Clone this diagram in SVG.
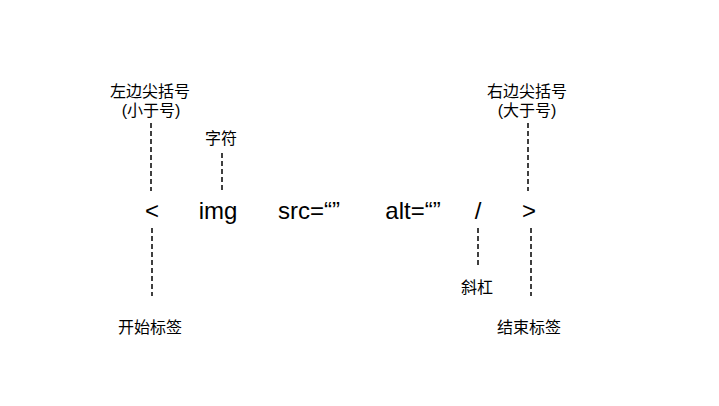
<svg xmlns="http://www.w3.org/2000/svg" width="719" height="406" viewBox="0 0 719 406">
<style>
.lbl{font-family:"Liberation Sans","Noto Sans CJK SC",sans-serif;font-size:16px;fill:#000;text-anchor:middle}
.code{font-family:"Liberation Sans","Noto Sans CJK SC",sans-serif;font-size:24px;fill:#000;text-anchor:middle}
.dash{stroke:#000;stroke-width:1.5;stroke-dasharray:5 3;fill:none}
</style>
<rect width="719" height="406" fill="#fff"/>
<g id="connectors">
<line class="dash" x1="151" y1="123" x2="151" y2="191"/>
<line class="dash" x1="152" y1="228" x2="152" y2="296"/>
<line class="dash" x1="222" y1="153" x2="222" y2="191"/>
<line class="dash" x1="528" y1="123" x2="528" y2="191"/>
<line class="dash" x1="531" y1="228" x2="531" y2="296"/>
<line class="dash" x1="478" y1="228" x2="478" y2="266"/>
</g>
<g id="lt"><text class="code" x="152" y="219">&lt;</text></g>
<g id="img"><text class="code" x="218" y="219">img</text></g>
<g id="src"><text class="code" x="309" y="219">src=“”</text></g>
<g id="alt"><text class="code" x="413" y="219">alt=“”</text></g>
<g id="slash"><text class="code" x="478" y="219">/</text></g>
<g id="gt"><text class="code" x="529" y="219">&gt;</text></g>
<g id="left-label"><text class="lbl" x="150" y="97">左边尖括号</text><text class="lbl" x="151" y="116">(小于号)</text></g>
<g id="char-label"><text class="lbl" x="221" y="144">字符</text></g>
<g id="right-label"><text class="lbl" x="527" y="97">右边尖括号</text><text class="lbl" x="527" y="116">(大于号)</text></g>
<g id="start-label"><text class="lbl" x="150" y="333">开始标签</text></g>
<g id="slash-label"><text class="lbl" x="477" y="293">斜杠</text></g>
<g id="end-label"><text class="lbl" x="529" y="333">结束标签</text></g>
</svg>
